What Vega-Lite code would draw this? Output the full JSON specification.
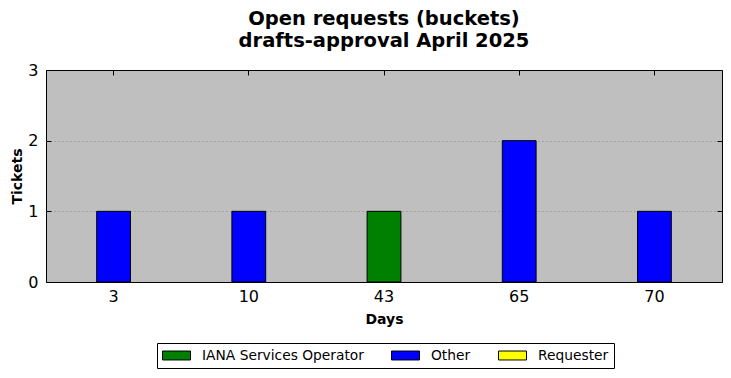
{
  "$schema": "https://vega.github.io/schema/vega-lite/v6.json",
  "width": 676,
  "height": 212,
  "autosize": "none",
  "padding": {"left": 46, "top": 70, "right": 9, "bottom": 96},
  "background": "white",
  "title": {
    "text": ["Open requests (buckets)", "drafts-approval April 2025"],
    "font": "DejaVu Sans",
    "fontSize": 19.5,
    "fontWeight": "bold",
    "color": "black",
    "anchor": "middle",
    "offset": 11,
    "lineHeight": 22
  },
  "config": {
    "view": {"fill": "#bfbfbf", "stroke": "black", "strokeWidth": 1},
    "font": "DejaVu Sans"
  },
  "data": {
    "values": [
      {"day": "3", "group": "Other", "count": 1},
      {"day": "10", "group": "Other", "count": 1},
      {"day": "43", "group": "IANA Services Operator", "count": 1},
      {"day": "65", "group": "Other", "count": 2},
      {"day": "70", "group": "Other", "count": 1}
    ]
  },
  "resolve": {"axis": {"x": "independent", "y": "independent"}},
  "layer": [
    {
      "mark": {"type": "bar", "stroke": "black", "strokeWidth": 1},
      "encoding": {
        "x": {
          "field": "day",
          "type": "ordinal",
          "sort": ["3", "10", "43", "65", "70"],
          "scale": {"paddingInner": 0.75, "paddingOuter": 0.375},
          "axis": {
            "orient": "bottom",
            "title": "Days",
            "titleFont": "DejaVu Sans",
            "titleFontSize": 14,
            "titleFontWeight": "bold",
            "titleColor": "black",
            "titlePadding": 8,
            "labelAngle": 0,
            "labelFont": "DejaVu Sans",
            "labelFontSize": 16,
            "labelColor": "black",
            "labelPadding": 11,
            "tickColor": "black",
            "tickSize": -5,
            "domain": false,
            "grid": false
          }
        },
        "y": {
          "field": "count",
          "type": "quantitative",
          "aggregate": "sum",
          "stack": "zero",
          "scale": {"domain": [0, 3], "nice": false},
          "axis": {
            "orient": "left",
            "title": "Tickets",
            "titleFont": "DejaVu Sans",
            "titleFontSize": 14,
            "titleFontWeight": "bold",
            "titleColor": "black",
            "titlePadding": 3,
            "values": [0, 1, 2, 3],
            "format": "d",
            "labelFont": "DejaVu Sans",
            "labelFontSize": 16,
            "labelColor": "black",
            "labelPadding": 13,
            "tickColor": "black",
            "tickSize": -5,
            "domain": false,
            "grid": true,
            "gridColor": "#888888",
            "gridOpacity": {"condition": {"test": "datum.value == 0 || datum.value == 3", "value": 0}, "value": 1},
            "gridDash": [1, 3],
            "gridWidth": 1
          }
        },
        "color": {
          "field": "group",
          "type": "nominal",
          "scale": {
            "domain": ["IANA Services Operator", "Other", "Requester"],
            "range": ["#008000", "#0000ff", "#ffff00"]
          },
          "legend": {
            "title": null,
            "orient": "none",
            "direction": "horizontal",
            "gridAlign": "none",
            "legendX": 111,
            "legendY": 273,
            "symbolType": "M-1,-0.64H3V0.64H-1Z",
            "symbolSize": 196,
            "symbolStrokeColor": "black",
            "symbolStrokeWidth": 1,
            "symbolOpacity": 1,
            "labelFont": "DejaVu Sans",
            "labelFontSize": 13.8,
            "labelLimit": 400,
            "labelColor": "black",
            "labelOffset": 25,
            "columnPadding": 25,
            "strokeColor": "black",
            "padding": 5,
            "fillColor": "white"
          }
        }
      }
    },
    {
      "mark": {"type": "bar", "opacity": 0},
      "encoding": {
        "x": {
          "field": "day",
          "type": "ordinal",
          "sort": ["3", "10", "43", "65", "70"],
          "axis": {
            "orient": "top",
            "title": null,
            "labels": false,
            "tickColor": "black",
            "tickSize": -5,
            "domain": false,
            "grid": false
          }
        },
        "y": {
          "field": "count",
          "type": "quantitative",
          "aggregate": "sum",
          "axis": {
            "orient": "right",
            "title": null,
            "labels": false,
            "values": [0, 1, 2, 3],
            "tickColor": "black",
            "tickSize": -5,
            "domain": false,
            "grid": false
          }
        }
      }
    }
  ]
}
